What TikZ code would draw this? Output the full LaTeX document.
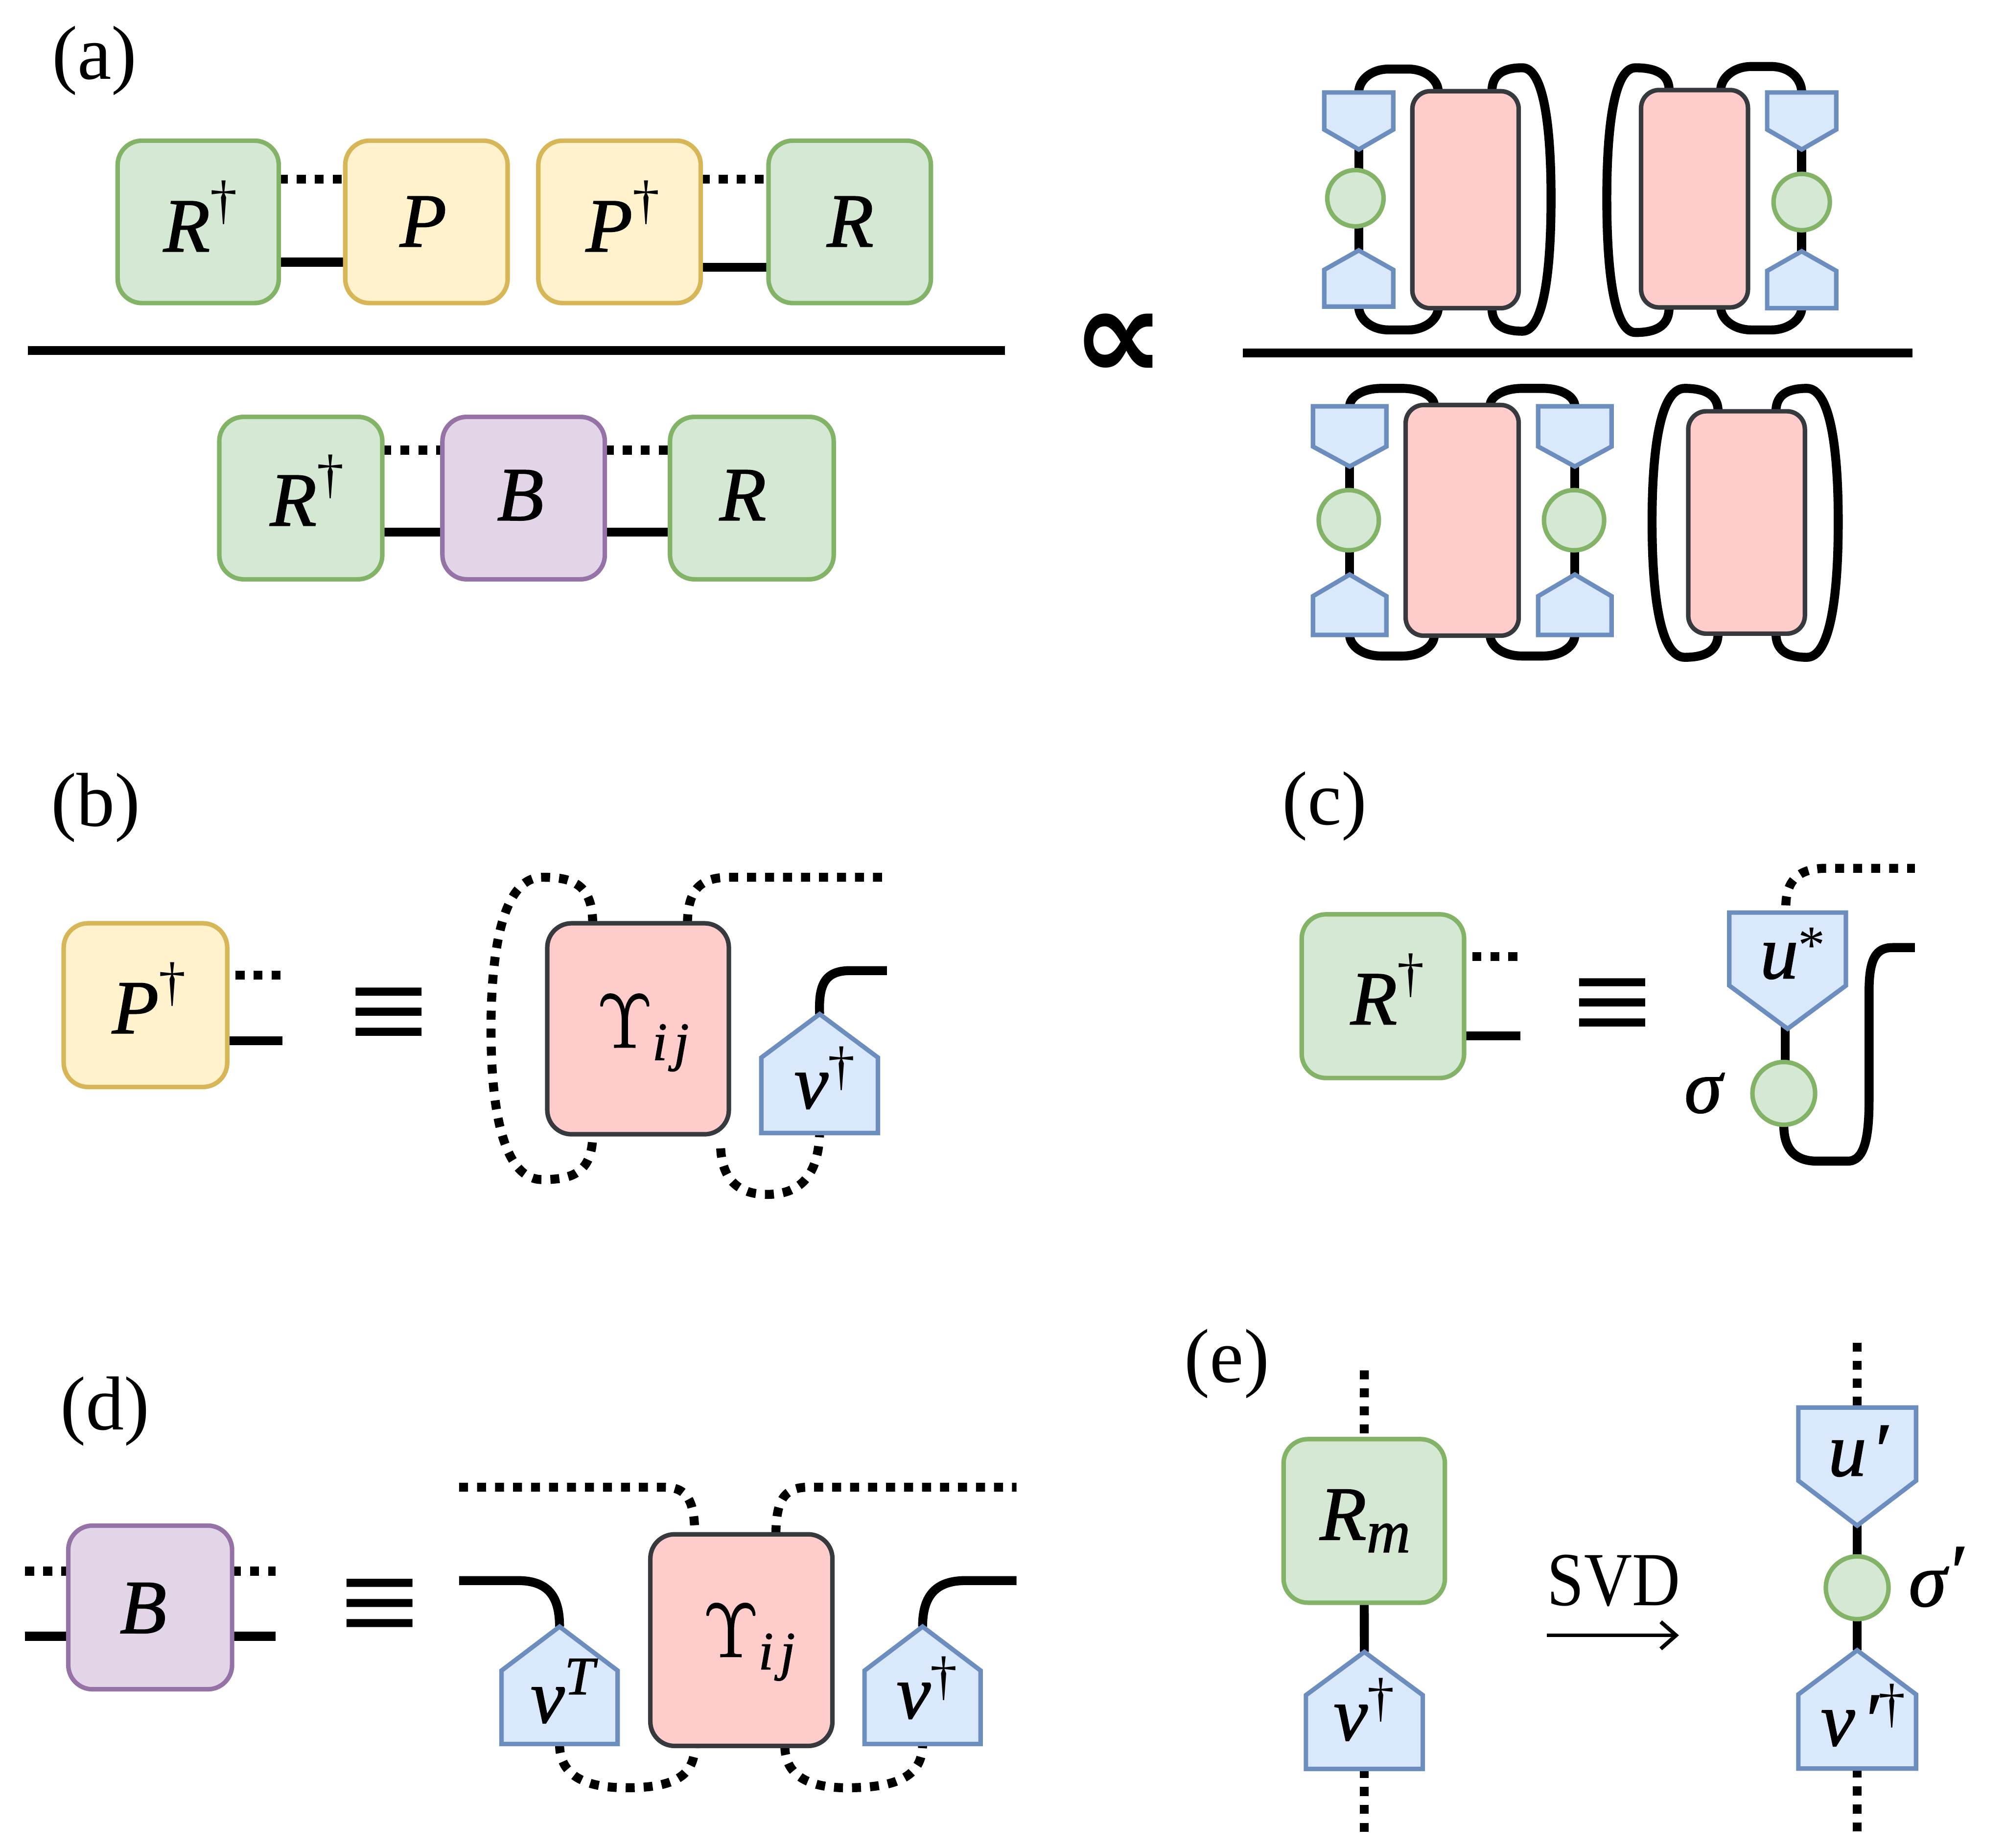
\documentclass[tikz,border=0pt]{standalone}
\usepackage{graphicx}
\usepackage{fontspec}
\setmainfont{Liberation Serif}
\newfontface\mifont[FakeBold=1.2]{Liberation Serif Italic}
\newfontface\eqfont[FakeBold=0.8]{Liberation Serif}
\newfontface\symfont{DejaVu Sans Bold}
\newfontface\upsfont[FakeBold=1.5]{Latin Modern Roman}
\usetikzlibrary{backgrounds,arrows.meta}
\definecolor{gf}{HTML}{D5E8D4}\definecolor{gd}{HTML}{82B366}
\definecolor{yf}{HTML}{FFF2CC}\definecolor{yd}{HTML}{D6B656}
\definecolor{bf}{HTML}{DAE8FC}\definecolor{bd}{HTML}{6C8EBF}
\definecolor{vf}{HTML}{E1D5E7}\definecolor{vd}{HTML}{9673A6}
\definecolor{pf}{HTML}{FFCCCC}\definecolor{pd}{HTML}{36393D}
\newcommand\mi[1]{{\mifont #1}}
\newcommand\supfont{\fontsize{12}{12}\selectfont}
\newcommand\dg{\raisebox{7.4pt}{\supfont †}}
\newcommand\dgv{\raisebox{5.4pt}{\supfont †}}
\newcommand\Ups{{\upsfont Υ}\raisebox{-2.8pt}{\supfont\mifont i\kern1.5pt j}}
\newcommand\rbox[6]{\node[#6,minimum width={(#3-#2)*0.01cm},minimum height={(#5-#4)*0.01cm}] (#1) at ({(#2+#3)/2},{(#4+#5)/2}) {};}
\newcommand\pent[6]{\coordinate (#1-t) at (#2,#4);\coordinate (#1-b) at (#2,#6);
 \draw[pentshape] (#2,#4) -- ({#2+#3},#5) -- ({#2+#3},#6) -- ({#2-#3},#6) -- ({#2-#3},#5) -- cycle;}
\newcommand\bigloop[9]{\draw[#9] (#1) .. controls (#3,{#6+4}) and ({#3+0.45*(#4-#3)},#6) .. (#4,#6) .. controls ({#4+0.7*(#5-#4)},#6) and (#5,{#6+0.4*(#7-#6)}) .. (#5,#7) .. controls (#5,{#7+0.6*(#8-#7)}) and ({#4+0.7*(#5-#4)},#8) .. (#4,#8) .. controls ({#3+0.45*(#4-#3)},#8) and (#3,{#8-4}) .. (#2);}
% dome connector: terminals, their x values, extreme y, terminal y
\newcommand\dome[6]{\draw[wire] (#1) .. controls (#3,{(#5+#6)/2}) and ({#3+0.15*(#4-#3)},#5) .. ({#3+0.38*(#4-#3)},#5) -- ({#3+0.62*(#4-#3)},#5) .. controls ({#3+0.85*(#4-#3)},#5) and (#4,{(#5+#6)/2}) .. (#2);}
\tikzset{
 rb/.style={rounded corners=5.4pt,line width=1pt,inner sep=0,outer sep=0,draw},
 green/.style={rb,fill=gf,draw=gd},
 yellow/.style={rb,fill=yf,draw=yd},
 purple/.style={rb,fill=vf,draw=vd},
 pink/.style={rb,fill=pf,draw=pd},
 pinks/.style={pink,rounded corners=4pt},
 pentshape/.style={fill=bf,draw=bd,line width=1pt,line join=miter},
 dotc/.style={circle,inner sep=0,outer sep=0,fill=gf,draw=gd,line width=1pt},
 wire/.style={line width=2pt,line cap=butt},
 dotwire/.style={wire,dash pattern=on 2pt off 2pt},
 lab/.style={anchor=base,inner sep=0,font=\fontsize{17}{20}\selectfont},
 bigsym/.style={inner sep=0,font=\fontsize{31}{31}\selectfont\eqfont},
}
\begin{document}
\begin{tikzpicture}[x=0.01cm,y=-0.01cm]
\useasboundingbox (0,0) rectangle (1568,1445);
% panel labels
\node[lab] (la) at (74,62) {(a)};
\node[lab] (lb) at (75,646) {(b)};
\node[lab] (lc) at (1036,645) {(c)};
\node[lab] (ld) at (82,1118) {(d)};
\node[lab] (le) at (959.5,1081) {(e)};
% (a) left
\rbox{a1}{92}{218}{110}{237}{green}
\rbox{a2}{270}{397}{110}{237}{yellow}
\rbox{a3}{421}{548}{110}{237}{yellow}
\rbox{a4}{601}{728}{110}{237}{green}
\node[lab] (ta1) at (156.6,196.6) {\mi{R}\dg};
\node[lab] (ta2) at (331,192.8) {\mi{P}};
\node[lab] (ta3) at (487,196.6) {\mi{P}\dg};
\node[lab] (ta4) at (665,192.8) {\mi{R}};
\rbox{a5}{171.5}{299}{326}{453}{green}
\rbox{a6}{346}{473}{326}{453}{purple}
\rbox{a7}{524}{652}{326}{453}{green}
\node[lab] (ta5) at (240,411) {\mi{R}\dg};
\node[lab] (ta6) at (407,406.8) {\mi{B}};
\node[lab] (ta7) at (581,406.8) {\mi{R}};
\coordinate (barAl) at (22,274);\coordinate (barAr) at (786,274);
\coordinate (barBl) at (972,276);\coordinate (barBr) at (1495.7,276);
\draw[wire] (barAl) -- (barAr);
\draw[wire] (barBl) -- (barBr);
\node[inner sep=0,font=\fontsize{29}{29}\selectfont\symfont] (prop) at (875,271) {∝};
% (a) right top-left
\pent{p1}{1062.6}{27}{116.9}{101.3}{72.3}
\pent{p2}{1062.6}{27}{195.8}{211}{239.7}
\node[dotc,minimum size=0.44cm] (c1) at (1060,155) {};
\rbox{k1}{1104.5}{1187.7}{71.3}{241}{pinks}
% top-right
\pent{p3}{1409}{27}{116.9}{101.3}{72.3}
\pent{p4}{1409}{27}{196.5}{211.8}{241}
\node[dotc,minimum size=0.44cm] (c2) at (1409,158) {};
\rbox{k2}{1283.4}{1367}{70.4}{240.4}{pinks}
% bottom-left
\pent{p5}{1055.5}{28.7}{364.8}{349.2}{317.7}
\pent{p6}{1055.5}{28.7}{449.3}{466.2}{496.5}
\node[dotc,minimum size=0.47cm] (c3) at (1054.8,406.8) {};
\rbox{k3}{1099.3}{1187.7}{316.7}{497.1}{pinks}
\pent{p7}{1231.6}{28.7}{364.8}{349.2}{317.7}
\pent{p8}{1231.6}{28.7}{449.3}{466.2}{496.5}
\node[dotc,minimum size=0.47cm] (c4) at (1231,406.8) {};
% bottom-right
\rbox{k4}{1320.3}{1411.5}{321.6}{495.5}{pinks}
\coordinate (k1a) at (1124.7,71.3);\coordinate (k1b) at (1166.8,71.3);
\coordinate (k1c) at (1124.7,241);\coordinate (k1d) at (1166.8,241);
\coordinate (k2a) at (1305.3,70.4);\coordinate (k2b) at (1345.7,70.4);
\coordinate (k2c) at (1305.3,240.4);\coordinate (k2d) at (1345.7,240.4);
\coordinate (k3a) at (1121.6,316.7);\coordinate (k3b) at (1165.4,316.7);
\coordinate (k3c) at (1121.6,497.1);\coordinate (k3d) at (1165.4,497.1);
\coordinate (k4a) at (1343.6,321.6);\coordinate (k4b) at (1388.9,321.6);
\coordinate (k4c) at (1343.6,495.5);\coordinate (k4d) at (1388.9,495.5);
% (b)
\rbox{b1}{49.8}{177.7}{722}{850}{yellow}
\node[lab] (tb1) at (116.5,808) {\mi{P}\dg};
\coordinate (b1d) at (221,762.6);\coordinate (b1s) at (221,813.8);
\node[bigsym] (eqb) at (303.8,800) {≡};
\rbox{b2}{428}{570}{722}{887}{pink}
\node[lab] (tb2) at (503,819) {\Ups};
\pent{b3}{641}{45.6}{793}{827}{886}
\node[lab] (tb3) at (645,866.6) {\mi{v}\dgv};
\coordinate (b2a) at (463.5,722);\coordinate (b2b) at (537.6,722);
\coordinate (b2c) at (463.5,887);\coordinate (b4) at (563.6,898);
\coordinate (b5) at (694,686);\coordinate (b6) at (693.6,759);
% (c)
\rbox{c5}{1018}{1145}{715}{843}{green}
\node[lab] (tc5) at (1085,801) {\mi{R}\dg};
\coordinate (c5d) at (1189,748);\coordinate (c5s) at (1189,810);
\node[bigsym] (eqc) at (1260.7,792.7) {≡};
\pent{c6}{1398}{45.6}{804.5}{770.7}{713.6}
\coordinate (c6w) at (1396,800);
\node[lab] (tc6) at (1402,765) {\mi{u}\raisebox{3.4pt}{\supfont *}};
\node[dotc,minimum size=0.49cm] (c7) at (1395,855) {};
\node[lab] (tc7) at (1332,870) {\mi{σ}};
\coordinate (c6a) at (1396.6,708);\coordinate (c8) at (1497.5,679);\coordinate (c9) at (1497.5,741);
% (d)
\rbox{d1}{53.4}{181.5}{1193}{1321}{purple}
\node[lab] (td1) at (112,1277) {\mi{B}};
\coordinate (d1a) at (19.7,1228.7);\coordinate (d1b) at (215.6,1228.7);
\coordinate (d1c) at (19.7,1279.6);\coordinate (d1d) at (215.6,1279.6);
\node[bigsym] (eqd) at (296.7,1262.4) {≡};
\rbox{d2}{508.6}{651}{1199.8}{1365.3}{pink}
\node[lab] (td2) at (586,1295.5) {\Ups};
\pent{d3}{437.6}{45.4}{1272}{1306.4}{1363.8}
\pent{d4}{721.5}{45.4}{1272}{1306.4}{1363.8}
\node[lab] (td3) at (440,1347) {\mi{v}\raisebox{6.3pt}{\supfont\mifont T}};
\node[lab] (td4) at (725,1343.6) {\mi{v}\dgv};
\coordinate (d2a) at (543.3,1199.8);\coordinate (d2b) at (606.8,1199.8);
\coordinate (d2c) at (543.3,1365.3);\coordinate (d2d) at (613.8,1365.3);
\coordinate (d5) at (359,1163);\coordinate (d6) at (795,1163);
\coordinate (d7) at (359,1236);\coordinate (d8) at (795,1236);
% (e)
\rbox{e1}{1003.8}{1130}{1125.4}{1253.3}{green}
\node[lab] (te1) at (1067.6,1204) {\mi{R}\raisebox{-2.8pt}{\fontsize{13.5}{13.5}\selectfont\mifont m}};
\pent{e2}{1067}{45.7}{1291.8}{1325.6}{1383.3}
\node[lab] (te2) at (1066.8,1360.7) {\mi{v}\dgv};
\coordinate (e1t) at (1067,1071.6);\coordinate (e2b) at (1067,1434);
\node[lab] (svd) at (1262,1255.4) {\scalebox{0.87}[1]{SVD}};
\coordinate (arrL) at (1209.7,1278.8);\coordinate (arrR) at (1313,1278.8);
\draw[line width=0.85pt,-{Straight Barb[length=3.4pt,width=6pt]}] (arrL) -- (arrR);
\pent{e3}{1452.4}{46}{1193}{1157.9}{1100.7}
\node[lab] (te3) at (1453,1154) {\mi{u\kern1pt ′}};
\node[dotc,minimum size=0.49cm] (e4) at (1452.4,1241.6) {};
\node[lab] (te4) at (1514,1256) {\mi{σ}\raisebox{2pt}{\mi{′}}};
\pent{e5}{1452.4}{46}{1290.5}{1325}{1383}
\node[lab] (te5) at (1457,1365) {\mi{v\kern1.5pt ′}\dgv};
\coordinate (e3t) at (1452.4,1050);\coordinate (e5b) at (1452.4,1432);
% wires behind the shapes
\begin{pgfonlayer}{background}
% (a) left
\draw[dotwire] (a1.east |- 0,140) -- (a2.west |- 0,140);
\draw[wire] (a1.east |- 0,205) -- (a2.west |- 0,205);
\draw[dotwire] (a3.east |- 0,140) -- (a4.west |- 0,140);
\draw[wire] (a3.east |- 0,209) -- (a4.west |- 0,209);
\draw[dotwire] (a5.east |- 0,352) -- (a6.west |- 0,352);
\draw[wire] (a5.east |- 0,416) -- (a6.west |- 0,416);
\draw[dotwire] (a6.east |- 0,352) -- (a7.west |- 0,352);
\draw[wire] (a6.east |- 0,416) -- (a7.west |- 0,416);
% (a) right
\draw[wire] (p1-t) -- (p2-t);
\draw[wire] (p3-t) -- (p4-t);
\draw[wire] (p5-t) -- (p6-t);
\draw[wire] (p7-t) -- (p8-t);
\dome{p1-b}{k1a}{1062.6}{1124.7}{54}{72}
\dome{p2-b}{k1c}{1062.6}{1124.7}{258}{240}
\bigloop{k1b}{k1d}{1166.8}{1190.5}{1213}{53}{155}{259}{wire}
\bigloop{k2a}{k2c}{1305.3}{1279}{1256.6}{53}{155}{260}{wire}
\dome{k2b}{p3-b}{1345.7}{1409}{52}{71}
\dome{k2d}{p4-b}{1345.7}{1409}{258}{240}
\dome{p5-b}{k3a}{1055.5}{1121.6}{303.7}{317}
\dome{p6-b}{k3c}{1055.5}{1121.6}{513}{497}
\dome{k3b}{p7-b}{1165.4}{1231.6}{303.7}{317}
\dome{k3d}{p8-b}{1165.4}{1231.6}{513}{497}
\bigloop{k4a}{k4c}{1343.6}{1317.5}{1292}{303.7}{408}{514}{wire}
\bigloop{k4b}{k4d}{1388.9}{1413}{1437.6}{303.7}{408}{514}{wire}
% (b)
\draw[dotwire] (b1.east |- b1d) ++(6.5,0) -- (b1d);
\draw[wire] (b1.east |- b1s) -- (b1s);
\bigloop{b2a}{b2c}{463.5}{424}{384}{686}{805}{922.4}{dotwire}
\draw[dotwire] (b2b) .. controls (538,695) and (548,686) .. (571,686) -- (b5);
\draw[dotwire] (b4) .. controls (565,925) and (580,934) .. (600,934) .. controls (625,934) and (640,920) .. (b3-b);
\draw[wire] (b3-t) .. controls (640,770) and (645,759) .. (665,759) -- (b6);
% (c)
\draw[dotwire] (c5.east |- c5d) ++(6.5,0) -- (c5d);
\draw[wire] (c5.east |- c5s) -- (c5s);
\draw[wire] (c6w) -- (c6w |- c7.north);
\draw[dotwire] (c6a) .. controls (1397,690) and (1405,679) .. (1428,679) -- (c8);
\draw[wire] (c7.south) .. controls (1395,900) and (1405,908) .. (1421,908) -- (1445,908) .. controls (1458,908) and (1461.7,890) .. (1461.7,860) -- (1461.7,775) .. controls (1461.7,750) and (1467,741) .. (1480,741) -- (c9);
% (d)
\draw[dotwire] (d1a) -- (d1.west |- d1a);
\draw[dotwire] (d1.east |- d1b) -- (d1b);
\draw[wire] (d1c) -- (d1.west |- d1c);
\draw[wire] (d1.east |- d1d) -- (d1d);
\draw[dotwire] (d5) -- (520,1163) .. controls (538,1163) and (543.3,1175) .. (d2a);
\draw[dotwire] (d2b) .. controls (607,1175) and (612,1163) .. (632,1163) -- (d6);
\draw[wire] (d7) -- (405,1236) .. controls (430,1236) and (437.6,1250) .. (d3-t);
\draw[wire] (d4-t) .. controls (721.5,1250) and (730,1236) .. (755,1236) -- (d8);
\draw[dotwire] (d3-b) .. controls (437.6,1390) and (460,1398) .. (490,1398) .. controls (525,1398) and (543.3,1390) .. (d2c);
\draw[dotwire] (d2d) .. controls (613.8,1390) and (635,1398) .. (662,1398) .. controls (700,1398) and (721.5,1390) .. (d4-b);
% (e)
\draw[dotwire] (e1t) -- (e1.north);
\draw[wire] (e1.south) -- (e2-t);
\draw[dotwire] (e2-b) -- (e2b);
\draw[dotwire] (e3t) -- (e3-b);
\draw[wire] (e3-t) -- (e5-t);
\draw[dotwire] (e5-b) -- (e5b);
\end{pgfonlayer}
\end{tikzpicture}
\end{document}
